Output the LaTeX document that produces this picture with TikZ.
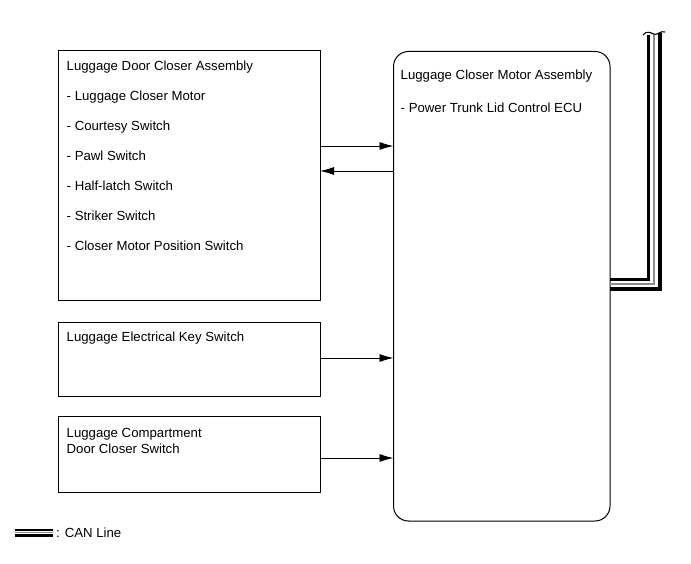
\documentclass[tikz,border=0pt]{standalone}
\usepackage{fontspec}
\setmainfont{Liberation Sans}
\usetikzlibrary{arrows.meta}
\begin{document}
\begin{tikzpicture}[x=1pt,y=-1pt,
  box/.style={draw=black,line width=1pt},
  txt/.style={anchor=base west,inner sep=0pt,font=\fontsize{13.2}{15.6}\selectfont},
  conn/.style={line width=0.9pt,-{Latex[length=14pt,width=8pt]}},
  canin/.style={line width=2.8pt,black},
  canmid/.style={line width=1.2pt,black!45},
  canout/.style={line width=4pt,black}]
\useasboundingbox (0,0) rectangle (691,564);
% boxes
\draw[box] (58.5,50.5) rectangle (320,300);
\draw[box] (58.5,322) rectangle (320,396.5);
\draw[box] (58.5,416.7) rectangle (320,492);
\draw[box,rounded corners=15pt] (393.5,51.5) rectangle (610,521);
% anchors
\coordinate (b1r1) at (320,146);
\coordinate (b1r2) at (320,171);
\coordinate (b2r) at (320,358);
\coordinate (b3r) at (320,458);
\coordinate (e1) at (393.5,146);
\coordinate (e2) at (393.5,171);
\coordinate (e3) at (393.5,358);
\coordinate (e4) at (393.5,458);
% texts
\node[txt] (t1) at (66.5,71) {Luggage Door Closer Assembly};
\node[txt] (t2) at (66.5,100.5) {- Luggage Closer Motor};
\node[txt] (t3) at (66.5,130.5) {- Courtesy Switch};
\node[txt] (t4) at (66.5,160.5) {- Pawl Switch};
\node[txt] (t5) at (66.5,190.5) {- Half-latch Switch};
\node[txt] (t6) at (66.5,220.5) {- Striker Switch};
\node[txt] (t7) at (66.5,250.5) {- Closer Motor Position Switch};
\node[txt] (k1) at (66.5,341.7) {Luggage Electrical Key Switch};
\node[txt] (c1) at (66.5,437.7) {Luggage Compartment};
\node[txt] (c2) at (66.5,453.3) {Door Closer Switch};
\node[txt] (m1) at (400.5,80) {Luggage Closer Motor Assembly};
\node[txt] (m2) at (400.5,112.7) {- Power Trunk Lid Control ECU};
% connectors
\draw[conn] (b1r1) -- (e1);
\draw[conn] (e2) -- (b1r2);
\draw[conn] (b2r) -- (e3);
\draw[conn] (b3r) -- (e4);
% CAN line
\coordinate (cs1) at (610,279.5);
\coordinate (cs2) at (610,284);
\coordinate (cs3) at (610,288.5);
\draw[canout] (cs3) -- (659.5,288.5) -- (659.5,33);
\draw[canmid] (cs2) -- (654,284) -- (654,34);
\draw[canin] (cs1) -- (648.5,279.5) -- (648.5,35);
\draw[line width=1.1pt] (643,35) .. controls (646,31) and (650,32) .. (653.5,34) .. controls (657,36) and (661,30) .. (665,32);
% legend
\coordinate (lg1) at (15,530);
\coordinate (lg2) at (53,530);
\draw[line width=2pt] (lg1) -- (lg2);
\draw[line width=0.8pt,black!45] (15,532.8) -- (53,532.8);
\draw[line width=3pt] (15,535.8) -- (53,535.8);
\node[txt] (lgt) at (56,537.5) {: CAN Line};
\end{tikzpicture}
\end{document}
